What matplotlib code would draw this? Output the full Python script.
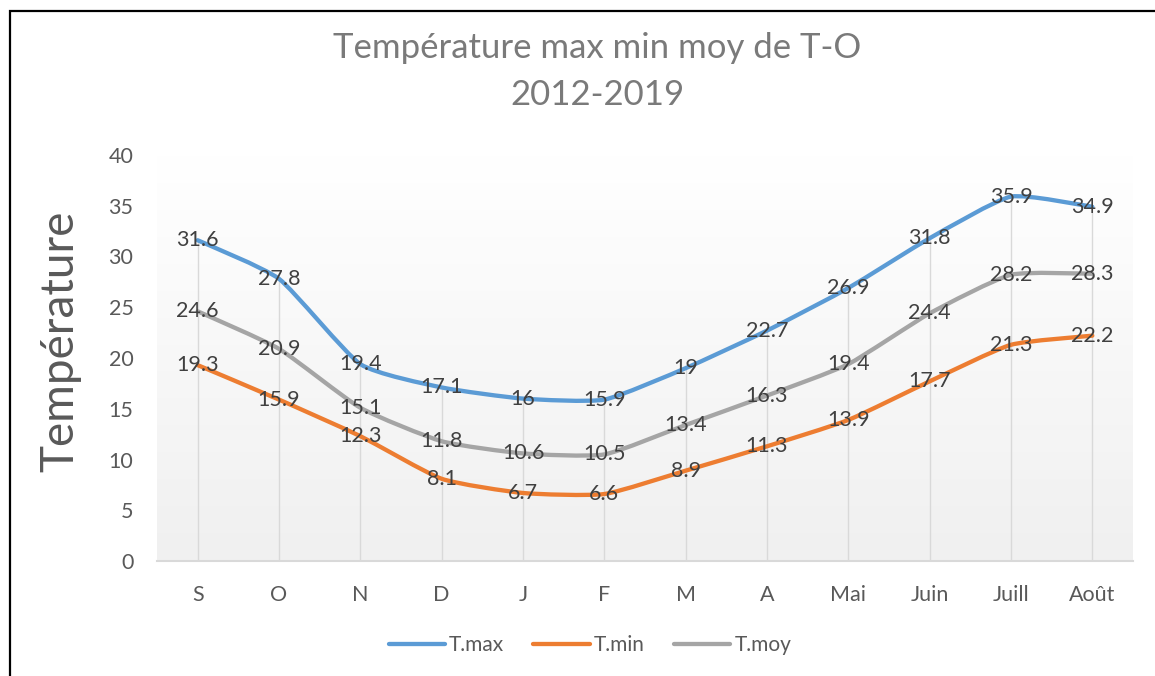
import numpy as np
import matplotlib
matplotlib.use("Agg")
import matplotlib.pyplot as plt
from matplotlib.path import Path
from matplotlib.patches import PathPatch, Rectangle
from matplotlib.lines import Line2D

plt.rcParams['font.family'] = ['Lato', 'DejaVu Sans']

categories = ["S", "O", "N", "D", "J", "F", "M", "A", "Mai", "Juin", "Juill", "Août"]
t_max = [31.6, 27.8, 19.4, 17.1, 16, 15.9, 19, 22.7, 26.9, 31.8, 35.9, 34.9]
t_min = [19.3, 15.9, 12.3, 8.1, 6.7, 6.6, 8.9, 11.3, 13.9, 17.7, 21.3, 22.2]
t_moy = [24.6, 20.9, 15.1, 11.8, 10.6, 10.5, 13.4, 16.3, 19.4, 24.4, 28.2, 28.3]
series_names = ["T.max", "T.min", "T.moy"]
y_ticks = [0, 5, 10, 15, 20, 25, 30, 35, 40]
title_line1 = "Température max min moy de T-O"
title_line2 = "2012-2019"
y_label = "Température"

colors = ["#5B9BD5", "#ED7D31", "#A5A5A5"]
text_col = "#595959"

W, H = 1155, 676
fig = plt.figure(figsize=(W / 100, H / 100), dpi=100)
ax = fig.add_axes([157 / W, 1 - 561 / H, (1133 - 157) / W, (561 - 155) / H])

x = np.arange(len(categories))
ax.set_xlim(-0.5, len(categories) - 0.5)
ax.set_ylim(0, 40)

# gradient background
grad = np.linspace(0, 1, 256)
top = np.array([1.0, 1.0, 1.0])
bot = np.array([0xF0, 0xF0, 0xF0]) / 255
img = top[None, None, :] + (bot - top)[None, None, :] * grad[:, None, None]
ax.imshow(img, extent=[-0.5, len(categories) - 0.5, 0, 40], aspect='auto',
          origin='upper', zorder=0)


def smooth_path(xs, ys, k=11.0):
    pts = np.column_stack([xs, ys]).astype(float)
    n = len(pts)
    verts = [pts[0]]
    codes = [Path.MOVETO]
    for i in range(n - 1):
        p0 = pts[i - 1] if i > 0 else pts[i]
        p1 = pts[i]
        p2 = pts[i + 1]
        p3 = pts[i + 2] if i + 2 < n else pts[i + 1]
        c1 = p1 + (p2 - p0) / k
        c2 = p2 - (p3 - p1) / k
        verts += [c1, c2, p2]
        codes += [Path.CURVE4] * 3
    return Path(verts, codes)


all_series = [t_max, t_min, t_moy]

# drop lines
tops = np.max(np.array(all_series), axis=0)
ax.vlines(x, 0, tops, colors="#D9D9D9", lw=1.0, zorder=1)

for vals, c in zip(all_series, colors):
    patch = PathPatch(smooth_path(x, vals), facecolor='none', edgecolor=c,
                      lw=3.1, capstyle='round', joinstyle='round', zorder=3)
    ax.add_patch(patch)

for vals in all_series:
    for xi, v in zip(x, vals):
        ax.text(xi, v, f"{v:g}", ha='center', va='center', fontsize=15.5,
                color="#404040", zorder=5)

for s in ['top', 'right', 'left']:
    ax.spines[s].set_visible(False)
ax.spines['bottom'].set_color("#D9D9D9")
ax.spines['bottom'].set_linewidth(1.5)
ax.spines['bottom'].set_zorder(2)

ax.set_xticks(x)
ax.set_xticklabels(categories)
ax.set_yticks(y_ticks)
ax.tick_params(axis='x', length=0, pad=17, labelsize=15.5, labelcolor=text_col)
ax.tick_params(axis='y', length=0, pad=17, labelsize=15.5, labelcolor=text_col)

fig.text(597 / W, 1 - 48 / H, title_line1, ha='center', va='center', fontsize=25,
         color="#7A7A7A")
fig.text(597 / W, 1 - 95 / H, title_line2, ha='center', va='center', fontsize=25,
         color="#7A7A7A")
fig.text(60 / W, 1 - 341 / H, y_label, ha='center', va='center', rotation=90,
         fontsize=33, color=text_col)

handles = [Line2D([0], [0], color=c, lw=3.1, solid_capstyle='round') for c in colors]
fig.legend(handles, series_names, loc='center', bbox_to_anchor=(590 / W, 1 - 645 / H),
           ncol=3, frameon=False, fontsize=15, labelcolor=text_col,
           handlelength=2.7, handletextpad=0.2, columnspacing=1.4)

fig.add_artist(Rectangle((10 / W, -0.1), 2, 1 - 11 / H + 0.1, transform=fig.transFigure,
                         fill=False, ec='black', lw=1.6))

fig.savefig("out.png", dpi=100)
